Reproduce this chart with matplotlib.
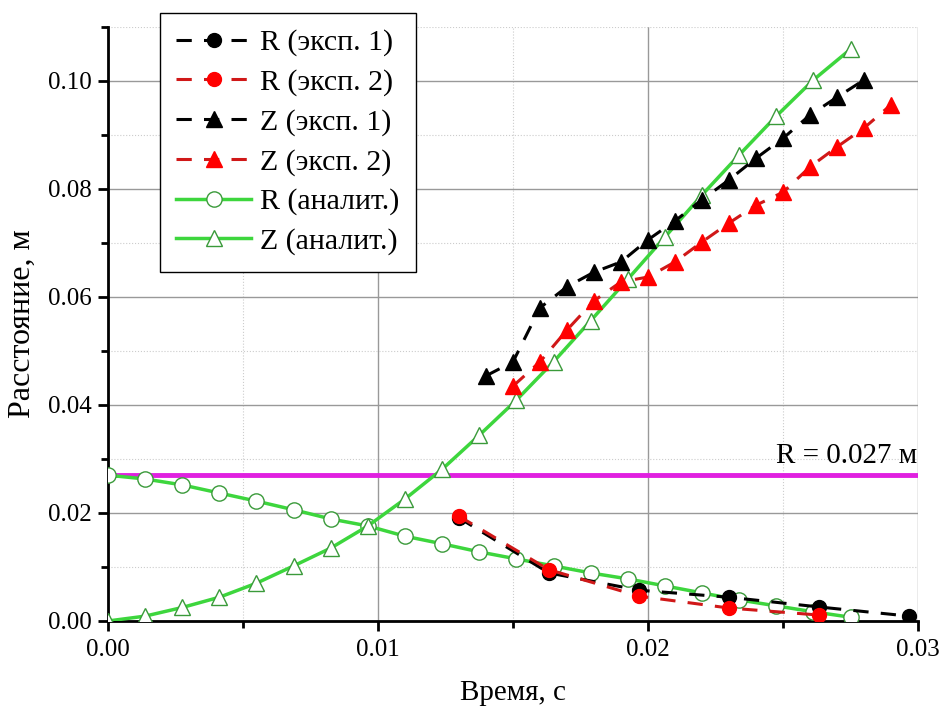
import matplotlib
matplotlib.use('Agg')
import matplotlib.pyplot as plt
from matplotlib.ticker import MultipleLocator
import numpy as np

plt.rcParams['font.family'] = ['Liberation Serif', 'DejaVu Serif']

# analytic solution, time step 0.001375 s
t_an = [0.0, 0.001375, 0.00275, 0.004125, 0.0055, 0.006875, 0.00825, 0.009625,
        0.011, 0.012375, 0.01375, 0.015125, 0.0165, 0.017875, 0.01925, 0.020625,
        0.022, 0.023375, 0.02475, 0.026125, 0.0275]
r_an = [0.0270, 0.0263, 0.0252, 0.0237, 0.0222, 0.0206, 0.0189, 0.0176,
        0.0157, 0.0143, 0.0128, 0.0115, 0.0102, 0.0089, 0.0078, 0.0065,
        0.0052, 0.0039, 0.0028, 0.0017, 0.0007]
z_an = [0.0000, 0.0009, 0.0025, 0.0044, 0.0070, 0.0102, 0.0135, 0.0176,
        0.0226, 0.0281, 0.0344, 0.0409, 0.0480, 0.0556, 0.0633, 0.0711,
        0.0789, 0.0863, 0.0935, 0.1002, 0.1059]

# experiments
t_z1 = [0.014, 0.015, 0.016, 0.017, 0.018, 0.019, 0.020, 0.021, 0.022, 0.023,
        0.024, 0.025, 0.026, 0.027, 0.028]
z_e1 = [0.0454, 0.0480, 0.0580, 0.0619, 0.0646, 0.0665, 0.0706, 0.0741, 0.0780,
        0.0817, 0.0857, 0.0894, 0.0937, 0.0970, 0.1002]
t_z2 = [0.015, 0.016, 0.017, 0.018, 0.019, 0.020, 0.021, 0.022, 0.023, 0.024,
        0.025, 0.026, 0.027, 0.028, 0.029]
z_e2 = [0.0435, 0.0480, 0.0539, 0.0593, 0.0628, 0.0637, 0.0665, 0.0702, 0.0737,
        0.0770, 0.0794, 0.0841, 0.0878, 0.0913, 0.0956]
t_r1 = [0.013, 0.01633, 0.01967, 0.023, 0.02633, 0.02967]
r_e1 = [0.0191, 0.0089, 0.0057, 0.0044, 0.0026, 0.0009]
t_r2 = [0.013, 0.01633, 0.01967, 0.023, 0.02633]
r_e2 = [0.0194, 0.0095, 0.0046, 0.0024, 0.0011]

R0 = 0.027

fig = plt.figure(figsize=(9.42, 7.18), dpi=100)
ax = fig.add_axes([0.1146, 0.1351, 0.86, 0.8273])

green = '#3dd63d'
edge_g = '#3a9a3a'

ax.axhline(R0, color='#e020e0', lw=3.5, zorder=2)

ax.plot(t_r1, r_e1, '--', color='black', lw=2.2, marker='o', ms=10, dashes=(5, 4),
        label='R (эксп. 1)', zorder=4)
ax.plot(t_r2, r_e2, '--', color='#d01818', lw=2.2, marker='o', ms=10, mfc='red', mec='red',
        dashes=(5, 4), label='R (эксп. 2)', zorder=4)
ax.plot(t_z1, z_e1, '--', color='black', lw=2.2, marker='^', ms=11, dashes=(5, 4),
        label='Z (эксп. 1)', zorder=4)
ax.plot(t_z2, z_e2, '--', color='#d01818', lw=2.2, marker='^', ms=11, mfc='red', mec='red',
        dashes=(5, 4), label='Z (эксп. 2)', zorder=4)
ax.plot(t_an, r_an, '-', color=green, lw=2.5, marker='o', ms=11, mfc='white', mec=edge_g,
        mew=1.0, label='R (аналит.)', zorder=3)
ax.plot(t_an, z_an, '-', color=green, lw=2.5, marker='^', ms=12, mfc='white', mec=edge_g,
        mew=1.0, label='Z (аналит.)', zorder=3)

ax.text(0.02995, R0 + 0.0011, 'R = 0.027 м', ha='right', va='bottom', fontsize=21)

ax.set_xlim(0, 0.03)
ax.set_ylim(0, 0.11)
ax.xaxis.set_major_locator(MultipleLocator(0.01))
ax.xaxis.set_minor_locator(MultipleLocator(0.005))
ax.yaxis.set_major_locator(MultipleLocator(0.02))
ax.yaxis.set_minor_locator(MultipleLocator(0.01))
ax.set_xticklabels(['%.2f' % v for v in ax.get_xticks()])
ax.set_yticklabels(['%.2f' % v for v in ax.get_yticks()])

ax.grid(True, which='major', color='#999999', lw=1.0, ls='-')
ax.grid(True, which='minor', color='#cccccc', lw=0.8, ls=':')
ax.set_axisbelow(True)

for s in ['top', 'right']:
    ax.spines[s].set_visible(False)
for s in ['left', 'bottom']:
    ax.spines[s].set_linewidth(2.0)
ax.tick_params(which='major', direction='out', length=7, width=2, labelsize=18)
ax.tick_params(which='minor', direction='out', length=5, width=2)
ax.tick_params(axis='x', pad=6)
ax.tick_params(axis='y', pad=5)

ax.set_xlabel('Время, с', fontsize=21, labelpad=14)
ax.set_ylabel('Расстояние, м', fontsize=23, labelpad=8)

leg = ax.legend(loc='upper left', bbox_to_anchor=(0.064, 1.024), borderaxespad=0,
                fontsize=21.5, handlelength=2.5, handletextpad=0.3, labelspacing=0.42,
                borderpad=0.55, fancybox=False, framealpha=1, edgecolor='black')
leg.get_frame().set_linewidth(1.0)

fig.savefig('out.png', dpi=100)
